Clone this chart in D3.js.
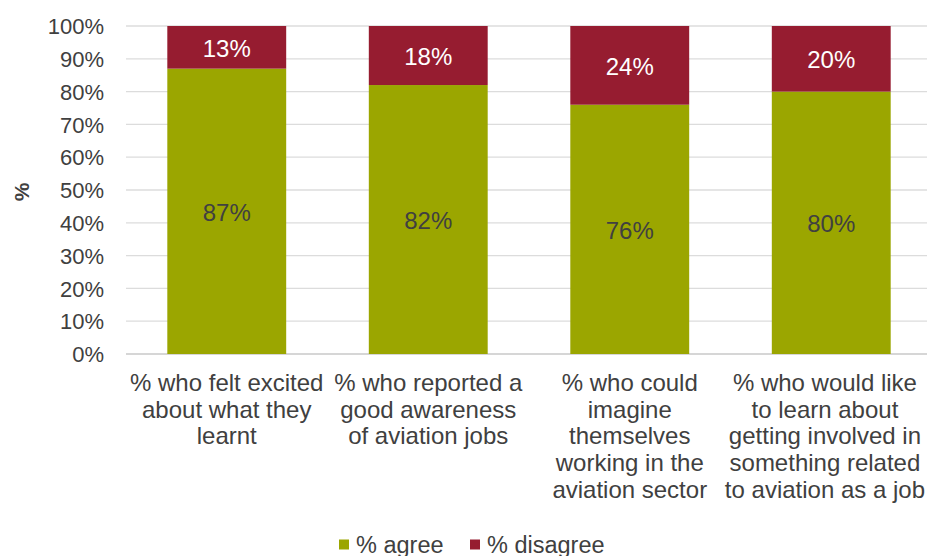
<!DOCTYPE html>
<html>
<head>
<meta charset="utf-8">
<script src="https://cdn.jsdelivr.net/npm/d3@7"></script>
<style>
  html, body { margin: 0; padding: 0; background: #fff; }
  svg { display: block; font-family: "Liberation Sans", Arial, sans-serif; }
</style>
</head>
<body>
<svg id="chart" width="927" height="556"></svg>
<script>
// Survey statements (one stacked bar each), wrapped across lines
const categories = [
  ["% who felt excited", "about what they", "learnt"],
  ["% who reported a", "good awareness", "of aviation jobs"],
  ["% who could", "imagine", "themselves", "working in the", "aviation sector"],
  ["% who would like", "to learn about", "getting involved in", "something related", "to aviation as a job"]
];
const agree = [87, 82, 76, 80];
const disagree = [13, 18, 24, 20];
const seriesNames = ["% agree", "% disagree"];
const yTicks = [0, 10, 20, 30, 40, 50, 60, 70, 80, 90, 100];

const colors = { agree: "#9BA600", disagree: "#961C30" };
const textColor = "#404040";

const svg = d3.select("#chart");
const width = 927;
const plotLeft = 126, plotRight = 932, plotTop = 26, plotBottom = 354;

const x = d3.scaleBand()
  .domain(d3.range(categories.length))
  .range([plotLeft, plotRight])
  .paddingInner(0.41)
  .paddingOuter(0.205);

const y = d3.scaleLinear().domain([0, 100]).range([plotBottom, plotTop]);

// Horizontal gridlines
svg.append("g")
  .selectAll("line")
  .data(yTicks)
  .join("line")
  .attr("x1", plotLeft).attr("x2", width)
  .attr("y1", d => y(d)).attr("y2", d => y(d))
  .attr("stroke", d => d === 0 ? "#c8c8c8" : "#dcdcdc")
  .attr("stroke-width", 1.3);

// Y axis tick labels
const yAxis = d3.axisLeft(y).tickValues(yTicks).tickFormat(d => d + "%").tickSize(0).tickPadding(0);
const gy = svg.append("g").attr("transform", `translate(${plotLeft - 22},0)`).call(yAxis);
gy.select(".domain").remove();
gy.selectAll("text")
  .attr("font-size", 22)
  .attr("fill", textColor)
  .attr("font-family", "Liberation Sans, Arial, sans-serif")
  .attr("dy", "0.35em");

// Y axis title
svg.append("text")
  .attr("transform", `translate(29,${(plotTop + plotBottom) / 2 + 2}) rotate(-90)`)
  .attr("text-anchor", "middle")
  .attr("font-size", 21)
  .attr("font-weight", "bold")
  .attr("fill", textColor)
  .text("%");

// Stacked bars
const rows = categories.map((c, i) => ({ i, agree: agree[i], disagree: disagree[i] }));
const stack = d3.stack().keys(["agree", "disagree"])(rows);

const layers = svg.append("g").selectAll("g")
  .data(stack)
  .join("g")
  .attr("fill", d => colors[d.key]);

layers.selectAll("rect")
  .data(d => d.map(v => ({ key: d.key, v })))
  .join("rect")
  .attr("x", d => x(d.v.data.i))
  .attr("width", x.bandwidth())
  .attr("y", d => y(d.v[1]))
  .attr("height", d => y(d.v[0]) - y(d.v[1]));

// Value labels inside segments
layers.selectAll("text")
  .data(d => d.map(v => ({ key: d.key, v })))
  .join("text")
  .attr("x", d => x(d.v.data.i) + x.bandwidth() / 2)
  .attr("y", d => (y(d.v[0]) + y(d.v[1])) / 2 + 1)
  .attr("dy", "0.35em")
  .attr("text-anchor", "middle")
  .attr("font-size", 24)
  .attr("fill", d => d.key === "disagree" ? "#ffffff" : textColor)
  .text(d => d.v.data[d.key] + "%");

// Category labels (kept inside the right edge of the chart)
const cat = svg.append("g").selectAll("text")
  .data(categories)
  .join("text")
  .attr("x", (d, i) => x(i) + x.bandwidth() / 2)
  .attr("y", 391)
  .attr("text-anchor", "middle")
  .attr("font-size", 24)
  .attr("fill", textColor);
cat.selectAll("tspan")
  .data(d => d)
  .join("tspan")
  .attr("x", function () { return d3.select(this.parentNode).attr("x"); })
  .attr("dy", (d, j) => j === 0 ? 0 : 26.7)
  .text(d => d);
cat.each(function () {
  const box = this.getBBox();
  const overflow = box.x + box.width - (width - 2);
  if (overflow > 0) {
    const cx = +d3.select(this).attr("x") - overflow;
    d3.select(this).attr("x", cx).selectAll("tspan").attr("x", cx);
  }
});

// Legend
const legendItems = [
  { name: seriesNames[0], color: colors.agree, x: 339 },
  { name: seriesNames[1], color: colors.disagree, x: 470 }
];
const lg = svg.append("g").selectAll("g").data(legendItems).join("g")
  .attr("transform", d => `translate(${d.x},539.5)`);
lg.append("rect").attr("width", 10).attr("height", 10).attr("fill", d => d.color);
lg.append("text")
  .attr("x", 17).attr("y", 5.5).attr("dy", "0.35em")
  .attr("font-size", 23.5)
  .attr("fill", textColor)
  .text(d => d.name);
</script>
</body>
</html>
